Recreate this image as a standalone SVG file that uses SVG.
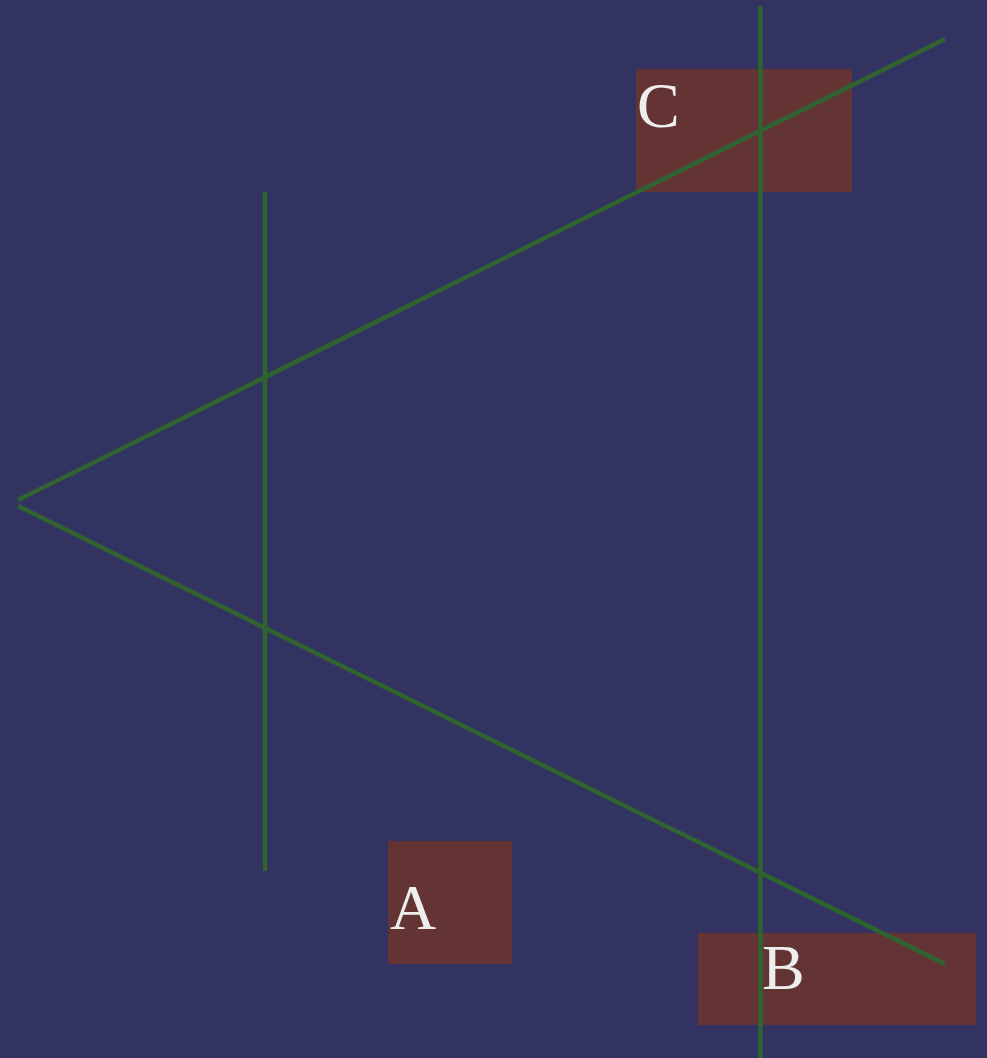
<svg xmlns="http://www.w3.org/2000/svg" width="987" height="1058" viewBox="0 0 987 1058">
  <style>
    .box { fill: #643434; }
    .label { fill: #eeeeee; font-family: "Liberation Serif", serif; font-size: 64px; }
    .link { stroke: #2f6330; fill: none; stroke-width: 4.5; }
  </style>
  <rect width="987" height="1058" fill="#333362"/>
  <g id="node-c">
    <rect class="box" x="636" y="69" width="216" height="123"/>
    <text class="label" x="637" y="127">C</text>
  </g>
  <g id="node-a">
    <rect class="box" x="388" y="841" width="124" height="123"/>
    <text class="label" x="390" y="929">A</text>
  </g>
  <g id="node-b">
    <rect class="box" x="698" y="933" width="278" height="92"/>
    <text class="label" x="762" y="989">B</text>
  </g>
  <g id="connectors">
    <line class="link" x1="945" y1="39" x2="18" y2="500"/>
    <line class="link" x1="18" y1="506" x2="945" y2="964"/>
    <line class="link" x1="265" y1="192" x2="265" y2="871" stroke-width="4"/>
    <line class="link" x1="760.5" y1="6" x2="760.5" y2="1058" stroke-width="5"/>
  </g>
</svg>
